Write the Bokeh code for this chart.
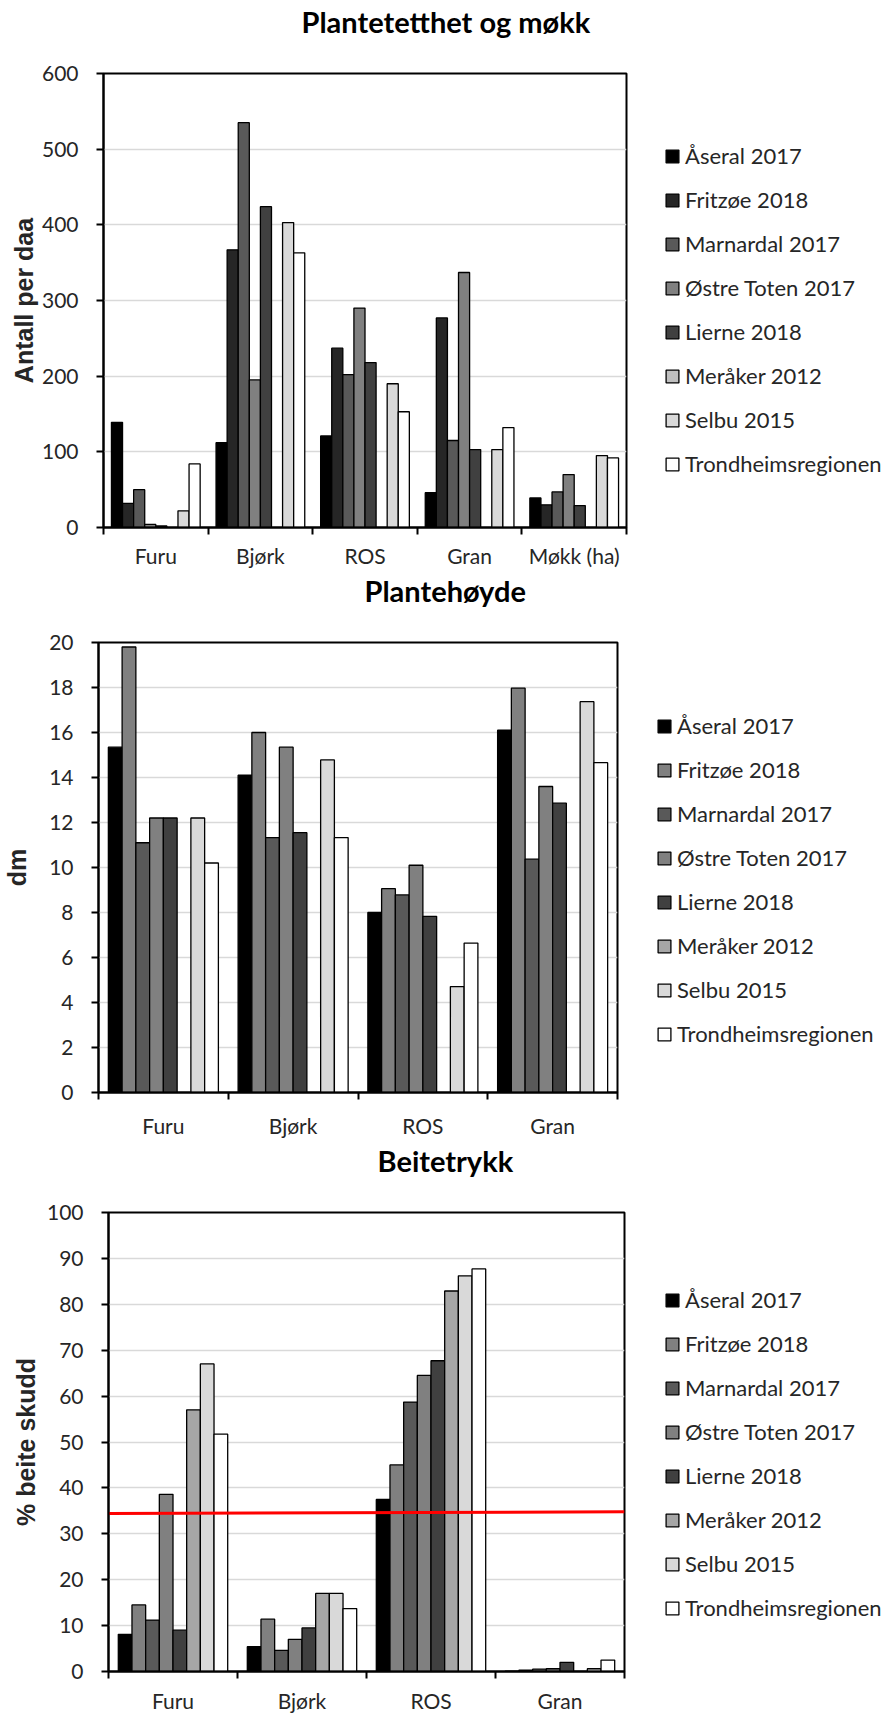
import numpy as np
from bokeh.plotting import figure
from bokeh.models import (ColumnDataSource, Range1d, FixedTicker, LinearAxis, Legend,
                          LegendItem, Title, Grid)
from bokeh.transform import dodge
from bokeh.layouts import column, row
from bokeh.embed import file_html
from bokeh.resources import INLINE

series = ["Åseral 2017", "Fritzøe 2018", "Marnardal 2017", "Østre Toten 2017",
          "Lierne 2018", "Meråker 2012", "Selbu 2015", "Trondheimsregionen"]

# ---- Chart 1: Plantetetthet og møkk (Antall per daa)
cats1 = ["Furu", "Bjørk", "ROS", "Gran", "Møkk (ha)"]
aseral1 = [139, 112, 121, 46, 39]
fritzoe1 = [32, 367, 237, 277, 30]
marnardal1 = [50, 535, 202, 115, 47]
ostre1 = [4, 195, 290, 337, 70]
lierne1 = [2, 424, 218, 103, 29]
meraker1 = [None, None, None, None, None]
selbu1 = [22, 403, 190, 103, 95]
trond1 = [84, 363, 153, 132, 92]
colors1 = ["#000000", "#262626", "#595959", "#808080", "#404040", "#bfbfbf", "#d9d9d9", "#ffffff"]

# ---- Chart 2: Plantehøyde (dm)
cats2 = ["Furu", "Bjørk", "ROS", "Gran"]
aseral2 = [15.35, 14.1, 8.0, 16.1]
fritzoe2 = [19.8, 16.0, 9.06, 17.97]
marnardal2 = [11.1, 11.33, 8.78, 10.37]
ostre2 = [12.2, 15.35, 10.1, 13.6]
lierne2 = [12.2, 11.55, 7.83, 12.86]
meraker2 = [None, None, None, None]
selbu2 = [12.2, 14.78, 4.71, 17.37]
trond2 = [10.2, 11.33, 6.64, 14.66]
colors2 = ["#000000", "#808080", "#595959", "#808080", "#404040", "#a6a6a6", "#d9d9d9", "#ffffff"]

# ---- Chart 3: Beitetrykk (% beite skudd)
cats3 = ["Furu", "Bjørk", "ROS", "Gran"]
aseral3 = [8.1, 5.4, 37.5, 0.1]
fritzoe3 = [14.5, 11.4, 45.0, 0.3]
marnardal3 = [11.2, 4.6, 58.7, 0.5]
ostre3 = [38.6, 7.0, 64.5, 0.6]
lierne3 = [9.0, 9.5, 67.7, 2.0]
meraker3 = [57.0, 17.0, 82.9, 0.0]
selbu3 = [67.0, 17.0, 86.2, 0.6]
trond3 = [51.7, 13.7, 87.7, 2.5]
colors3 = ["#000000", "#808080", "#595959", "#808080", "#404040", "#a6a6a6", "#d9d9d9", "#ffffff"]
threshold3 = [34.4, 34.8]

TXT = "#262626"


def build(cats, vals, colors, ylabel, ymax, ystep, height, bl, fw, bt, bb,
          title, toff, tspace, xstand, ystand, lw, lx, ly):
    n = len(cats)
    data = {"x": [i + 0.5 for i in range(n)]}
    for i, v in enumerate(vals):
        data[f"s{i}"] = np.array([np.nan if a is None else a for a in v], dtype=float)
    src = ColumnDataSource(data)
    width = bl + fw + 5
    p = figure(width=width, height=height, x_range=Range1d(0, n), y_range=Range1d(0, ymax),
               output_backend="svg", toolbar_location=None, title=None,
               min_border_left=bl, min_border_right=5, min_border_top=bt,
               min_border_bottom=bb, x_axis_type=None, y_axis_type=None)
    p.outline_line_color = "black"
    p.outline_line_width = 2

    yticker = FixedTicker(ticks=list(range(0, ymax + 1, ystep)))
    p.add_layout(Grid(dimension=1, ticker=yticker, grid_line_color="#d9d9d9",
                      grid_line_width=1.5))
    yaxis = LinearAxis(ticker=yticker, axis_label=ylabel,
                       axis_line_color="black", axis_line_width=2,
                       major_tick_out=7, major_tick_in=0, minor_tick_out=0, minor_tick_in=0,
                       major_tick_line_color="black", major_tick_line_width=2,
                       major_label_standoff=18,
                       major_label_text_font="Lato", major_label_text_font_size="21px",
                       major_label_text_color=TXT,
                       axis_label_text_font="Liberation Sans",
                       axis_label_text_font_style="bold",
                       axis_label_text_font_size="25px",
                       axis_label_text_color=TXT, axis_label_standoff=ystand)
    p.add_layout(yaxis, "left")

    xticker = FixedTicker(ticks=[i + 0.5 for i in range(n)], minor_ticks=list(range(n + 1)))
    xaxis = LinearAxis(ticker=xticker,
                       major_label_overrides={i + 0.5: c for i, c in enumerate(cats)},
                       axis_line_color="black", axis_line_width=2,
                       major_tick_out=0, major_tick_in=0,
                       minor_tick_out=7, minor_tick_in=0,
                       minor_tick_line_color="black", minor_tick_line_width=2,
                       major_label_standoff=xstand,
                       major_label_text_font="Lato", major_label_text_font_size="21px",
                       major_label_text_color=TXT)
    p.add_layout(xaxis, "below")

    w = 0.106
    rends = []
    for i in range(len(vals)):
        r = p.vbar(x=dodge("x", (i - 3.5) * w), top=f"s{i}", width=w, source=src,
                   fill_color=colors[i], line_color="black", line_width=1.3)
        rends.append(r)

    # spacer then title in the panel above the frame
    p.add_layout(Title(text=" ", text_font_size="1px", standoff=tspace), "above")
    p.add_layout(Title(text=title, align="left", offset=toff, text_font="Lato",
                       text_font_style="bold", text_font_size="29px", text_color="black",
                       standoff=0), "above")

    # legend panel: separate narrow figure to the right of the chart
    lp = figure(width=lw, height=height, x_range=Range1d(0, 1), y_range=Range1d(0, 1),
                output_backend="svg", toolbar_location=None, title=None,
                min_border=0, x_axis_type=None, y_axis_type=None)
    lp.outline_line_color = None
    lrends = []
    for i in range(len(vals)):
        lsrc = ColumnDataSource({"x": [-5.0], "top": np.array([np.nan])})
        lrends.append(lp.vbar(x="x", top="top", width=0.1, source=lsrc,
                              fill_color=colors[i], line_color="black", line_width=1.3))
    legend = Legend(items=[LegendItem(label=s, renderers=[r]) for s, r in zip(series, lrends)],
                    location=(lx, ly), glyph_width=16, glyph_height=16, label_standoff=5,
                    spacing=17, padding=0, margin=0, border_line_color=None,
                    background_fill_alpha=0, label_text_font="Lato",
                    label_text_font_size="22px", label_text_color=TXT,
                    label_height=20)
    lp.add_layout(legend)
    return p, lp, n


p1, l1, _ = build(cats1, [aseral1, fritzoe1, marnardal1, ostre1, lierne1, meraker1, selbu1, trond1],
                  colors1, "Antall per daa", 600, 100, 570, 103, 523, 73, 42,
                  "Plantetetthet og møkk", 198, 32, 8, 1, 261, 33, 50)

p2, l2, _ = build(cats2, [aseral2, fritzoe2, marnardal2, ostre2, lierne2, meraker2, selbu2, trond2],
                  colors2, "dm", 20, 2, 570, 97, 520, 72, 47,
                  "Plantehøyde", 266, 32, 13, 15, 270, 34, 45)

p3, l3, n3 = build(cats3, [aseral3, fritzoe3, marnardal3, ostre3, lierne3, meraker3, selbu3, trond3],
                   colors3, "% beite skudd", 100, 10, 576, 108, 516, 72, 45,
                   "Beitetrykk", 269, 32, 9, 4, 263, 35, 50)
p3.line(x=[0, n3], y=threshold3, line_color="#ff0000", line_width=3)

layout = column(row(p1, l1, spacing=0), row(p2, l2, spacing=0), row(p3, l3, spacing=0),
                spacing=0)
open("out.html", "w").write(file_html(layout, INLINE))
